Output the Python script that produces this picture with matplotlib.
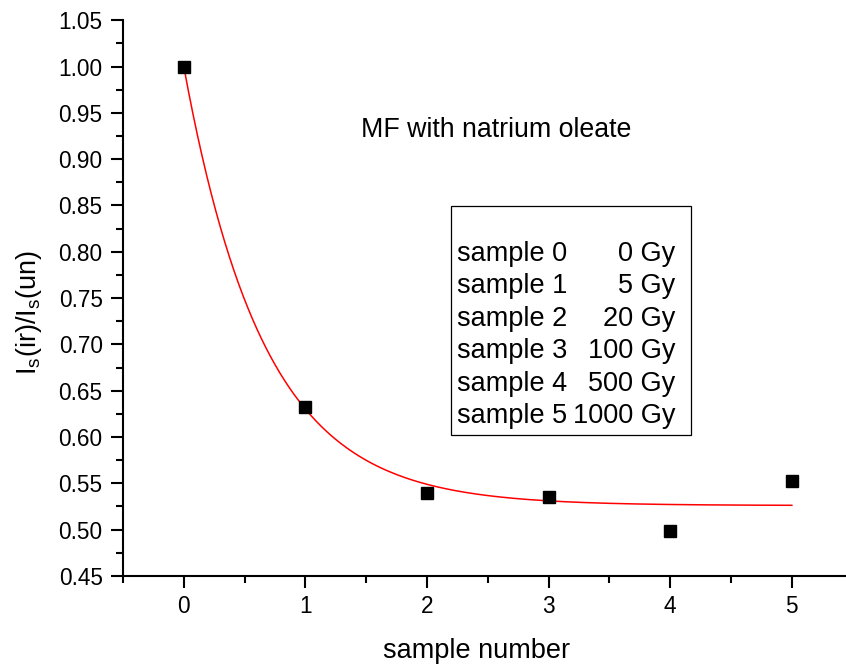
import numpy as np
import matplotlib
matplotlib.use("Agg")
import matplotlib.pyplot as plt
from matplotlib.ticker import MultipleLocator

plt.rcParams['font.family'] = ['Liberation Sans', 'DejaVu Sans']
plt.rcParams['mathtext.fontset'] = 'custom'
plt.rcParams['mathtext.rm'] = 'Liberation Sans'
plt.rcParams['mathtext.it'] = 'Liberation Sans'

# data
sample = [0, 1, 2, 3, 4, 5]
ratio = [1.000, 0.632, 0.539, 0.535, 0.498, 0.553]

# exponential-decay fit parameters (y = y0 + A*exp(-x/t))
fit_y0 = 0.526
fit_A = 0.474
fit_t = 0.66

legend_samples = ["sample 0", "sample 1", "sample 2", "sample 3", "sample 4", "sample 5"]
legend_doses = ["0 Gy", "5 Gy", "20 Gy", "100 Gy", "500 Gy", "1000 Gy"]

W, H = 846, 666
fig = plt.figure(figsize=(W / 100, H / 100), dpi=100)
x_left = 123.0
x_right = 183.3 + 5.5 * 121.7
y_bot = 575.9
y_top = 20.3
ax_w = x_right - x_left
ax_h = y_bot - y_top
ax = fig.add_axes([x_left / W, 1 - y_bot / H, ax_w / W, ax_h / H])

xf = np.linspace(0, 5, 400)
yf = fit_y0 + fit_A * np.exp(-xf / fit_t)
ax.plot(xf, yf, color='red', lw=1.1, zorder=2)
ax.plot(sample, ratio, 's', color='black', ms=8, zorder=3)

ax.set_xlim(-0.5, 5.5)
ax.set_ylim(0.45, 1.05)
ax.xaxis.set_major_locator(MultipleLocator(1))
ax.xaxis.set_minor_locator(MultipleLocator(0.5))
ax.yaxis.set_major_locator(MultipleLocator(0.05))
ax.yaxis.set_minor_locator(MultipleLocator(0.025))
ax.yaxis.set_major_formatter(matplotlib.ticker.FormatStrFormatter('%.2f'))

for s in ['top', 'right']:
    ax.spines[s].set_visible(False)
for s in ['left', 'bottom']:
    ax.spines[s].set_linewidth(1.5)

ax.tick_params(which='major', direction='out', length=8.6, width=1.5, labelsize=16.3, pad=6)
ax.tick_params(which='minor', direction='out', length=5, width=1.5)
ax.tick_params(axis='x', which='major', pad=5)

ax.set_xlabel("sample number", fontsize=19.5)
ax.xaxis.set_label_coords((476.5 - x_left) / ax_w, (y_bot - 638) / ax_h)
ax.set_ylabel(r"I$_{\mathrm{s}}$(ir)/I$_{\mathrm{s}}$(un)", fontsize=19.5)
ax.yaxis.set_label_coords((44 - x_left) / ax_w, (y_bot - 312.5) / ax_h)

ax.text(2.565, 0.9315, "MF with natrium oleate", fontsize=19.3, ha='center', va='center')

# legend box
bx0 = (451 - 183.3) / 121.7
bx1 = (690.7 - 183.3) / 121.7
by_top = 0.45 + (y_bot - 206.0) / 926
by_bot = 0.45 + (y_bot - 435.0) / 926
rect = plt.Rectangle((bx0, by_bot), bx1 - bx0, by_top - by_bot, fill=False,
                     edgecolor='black', lw=0.9, zorder=4)
ax.add_patch(rect)
row_y0 = 261.0
row_dy = 32.4
for i, (s, d) in enumerate(zip(legend_samples, legend_doses)):
    yp = 0.45 + (y_bot - (row_y0 + i * row_dy)) / 926
    ax.text((457 - 183.3) / 121.7, yp, s, fontsize=19.5, ha='left', va='baseline')
    ax.text((675 - 183.3) / 121.7, yp, d, fontsize=19.5, ha='right', va='baseline')

fig.savefig("out.png", dpi=100)
